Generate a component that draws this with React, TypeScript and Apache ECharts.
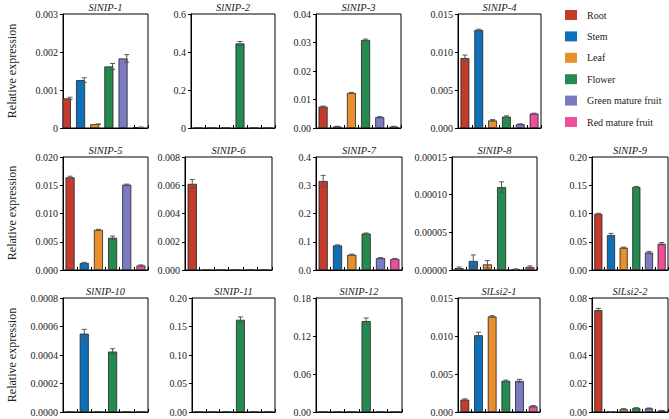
import React, { useEffect, useRef } from "react";
import * as echarts from "echarts";

const tissues = ["Root", "Stem", "Leaf", "Flower", "Green mature fruit", "Red mature fruit"];
const tissueColors = ["#C23B2B", "#0F70BA", "#E8902C", "#248A4F", "#7C7BC2", "#EE4E9C"];

const genes = [
  "SlNIP-1", "SlNIP-2", "SlNIP-3", "SlNIP-4", "SlNIP-5", "SlNIP-6", "SlNIP-7",
  "SlNIP-8", "SlNIP-9", "SlNIP-10", "SlNIP-11", "SlNIP-12", "SlLsi2-1", "SlLsi2-2",
];

// mean values (Root, Stem, Leaf, Flower, Green mature fruit, Red mature fruit)
const nip1 = [0.00078, 0.00126, 0.0001, 0.00162, 0.00183, 0.00002];
const nip2 = [0, 0, 0, 0.445, 0, 0];
const nip3 = [0.0075, 0.0005, 0.0123, 0.0309, 0.0038, 0.0005];
const nip4 = [0.0092, 0.0129, 0.001, 0.0015, 0.0005, 0.0019];
const nip5 = [0.0164, 0.00125, 0.0071, 0.0057, 0.0151, 0.0008];
const nip6 = [0.0061, 0, 0, 0, 0, 0];
const nip7 = [0.315, 0.087, 0.054, 0.129, 0.042, 0.039];
const nip8 = [0.0000025, 0.000012, 0.0000075, 0.00011, 0.000001, 0.000004];
const nip9 = [0.0994, 0.0618, 0.0395, 0.147, 0.031, 0.0465];
const nip10 = [0, 0.00055, 0, 0.000424, 0, 0];
const nip11 = [0, 0, 0, 0.1618, 0, 0];
const nip12 = [0, 0, 0, 0.1435, 0, 0];
const lsi21 = [0.00163, 0.0101, 0.01257, 0.0041, 0.0041, 0.00075];
const lsi22 = [0.0715, 0.0002, 0.0021, 0.0028, 0.0026, 0.001];

// standard errors
const nip1Err = [0.00003, 0.00006, 0.000005, 0.00008, 0.0001, 0.000005];
const nip2Err = [0, 0, 0, 0.01, 0, 0];
const nip3Err = [0.0002, 0.0001, 0.0002, 0.0003, 0.0002, 0.0001];
const nip4Err = [0.0004, 0.0001, 0.0001, 0.0001, 0.00005, 0.00005];
const nip5Err = [0.0002, 0.0001, 0.0001, 0.0003, 0.0001, 0.0001];
const nip6Err = [0.0003, 0, 0, 0, 0, 0];
const nip7Err = [0.02, 0.002, 0.002, 0.002, 0.002, 0.002];
const nip8Err = [0.0000015, 0.000008, 0.000005, 0.000007, 0.0000005, 0.0000015];
const nip9Err = [0.001, 0.003, 0.001, 0.001, 0.002, 0.002];
const nip10Err = [0, 0.00003, 0, 0.00002, 0, 0];
const nip11Err = [0, 0, 0, 0.005, 0, 0];
const nip12Err = [0, 0, 0, 0.005, 0, 0];
const lsi21Err = [0.0001, 0.0004, 0.0001, 0.0001, 0.0002, 0.0001];
const lsi22Err = [0.0012, 0.0001, 0.0002, 0.0002, 0.0002, 0.0001];

const values = [nip1, nip2, nip3, nip4, nip5, nip6, nip7, nip8, nip9, nip10, nip11, nip12, lsi21, lsi22];
const errors = [nip1Err, nip2Err, nip3Err, nip4Err, nip5Err, nip6Err, nip7Err, nip8Err, nip9Err, nip10Err, nip11Err, nip12Err, lsi21Err, lsi22Err];

// y-axis scales and tick label formats
const yMax = [0.003, 0.6, 0.04, 0.015, 0.02, 0.008, 0.4, 0.00015, 0.2, 0.0008, 0.2, 0.18, 0.015, 0.08];
const yStep = [0.001, 0.2, 0.01, 0.005, 0.005, 0.002, 0.1, 0.00005, 0.05, 0.0002, 0.05, 0.06, 0.005, 0.02];
const yDecimals = [3, 1, 2, 3, 3, 3, 1, 5, 2, 4, 2, 2, 3, 2];
const yPlainZero = [true, true, false, false, false, false, false, false, false, false, false, false, false, false];

const yTitle = "Relative expression";

// layout: [left, top, width, height]
const panels = [
  [63, 14, 85, 114], [191, 14, 84, 114], [316, 14, 85, 114], [458, 14, 83, 114],
  [63, 157, 85, 113], [185, 157, 87, 113], [316, 157, 86, 113], [452, 157, 85, 113], [592, 157, 76, 113],
  [63, 298, 85, 114], [192, 298, 83, 114], [316, 298, 86, 114], [458, 298, 82, 114], [592, 298, 76, 114],
];
const rowCenters = [71, 213, 355];

const FONT = "Liberation Serif";

export default function App() {
  const ref = useRef<HTMLDivElement>(null);
  useEffect(() => {
    if (!ref.current) return;
    const chart = echarts.init(ref.current, undefined, { renderer: "svg" });

    const grid: any[] = [];
    const xAxis: any[] = [];
    const yAxis: any[] = [];
    const series: any[] = [];
    const graphic: any[] = [];

    panels.forEach((p, i) => {
      grid.push({
        left: p[0], top: p[1], width: p[2], height: p[3],
        show: true, borderColor: "#000", borderWidth: 1, backgroundColor: "transparent",
      });
      xAxis.push({
        type: "category", gridIndex: i, data: tissues,
        axisLine: { show: true, lineStyle: { color: "#000", width: 1 } },
        axisTick: { show: true, inside: true, length: 3, interval: 0, lineStyle: { color: "#000" } },
        axisLabel: { show: false },
        splitLine: { show: false },
      });
      const dec = yDecimals[i];
      const plain = yPlainZero[i];
      yAxis.push({
        type: "value", gridIndex: i, min: 0, max: yMax[i], interval: yStep[i],
        axisLine: { show: true, lineStyle: { color: "#000", width: 1 } },
        axisTick: { show: true, inside: false, length: 3, lineStyle: { color: "#000" } },
        axisLabel: {
          color: "#222", fontFamily: FONT, fontSize: 10, margin: 5,
          formatter: (v: number) => (plain && Math.abs(v) < 1e-12 ? "0" : v.toFixed(dec)),
        },
        splitLine: { show: false },
      });
      series.push({
        type: "bar", xAxisIndex: i, yAxisIndex: i, barWidth: "64%",
        data: values[i].map((v, k) => ({
          value: v,
          itemStyle: { color: tissueColors[k], borderColor: "#222", borderWidth: 0.8 },
        })),
        z: 2,
      });
      const errData = values[i]
        .map((v, k) => [k, v, errors[i][k]])
        .filter((d) => d[2] > 0);
      series.push({
        type: "custom", xAxisIndex: i, yAxisIndex: i, z: 5,
        data: errData,
        renderItem: (params: any, api: any) => {
          const x = api.value(0);
          const y = api.value(1);
          const e = api.value(2);
          const top = api.coord([x, y + e]);
          const bot = api.coord([x, Math.max(0, y - e)]);
          const st = { stroke: "#555", lineWidth: 1 };
          const w = 2.5;
          return {
            type: "group",
            children: [
              { type: "line", shape: { x1: top[0], y1: top[1], x2: bot[0], y2: bot[1] }, style: st },
              { type: "line", shape: { x1: top[0] - w, y1: top[1], x2: top[0] + w, y2: top[1] }, style: st },
              { type: "line", shape: { x1: bot[0] - w, y1: bot[1], x2: bot[0] + w, y2: bot[1] }, style: st },
            ],
          };
        },
      });
      graphic.push({
        type: "text", x: p[0] + p[2] / 2, y: p[1] - 7,
        style: {
          text: genes[i], fill: "#222", fontFamily: FONT, fontStyle: "italic", fontWeight: "normal", fontSize: 10.5,
          align: "center", verticalAlign: "middle",
        },
      });
    });

    rowCenters.forEach((cy) => {
      graphic.push({
        type: "text", x: 12, y: cy, rotation: Math.PI / 2,
        style: {
          text: yTitle, fill: "#222", fontFamily: FONT, fontWeight: "normal", fontSize: 12,
          align: "center", verticalAlign: "middle",
        },
      });
    });

    // legend entries (empty series so the legend can refer to them)
    tissues.forEach((t, k) => {
      series.push({
        type: "bar", name: t, xAxisIndex: 0, yAxisIndex: 0, data: [],
        itemStyle: { color: tissueColors[k] },
      });
    });

    chart.setOption({
      animation: false,
      grid, xAxis, yAxis, series, graphic,
      legend: {
        data: tissues, orient: "vertical", left: 565, top: 9, padding: 0,
        icon: "rect", itemWidth: 12, itemHeight: 10, itemGap: 9.4,
        selectedMode: false,
        itemStyle: { borderWidth: 0 },
        textStyle: { fontFamily: FONT, fontSize: 10, color: "#222", lineHeight: 12, padding: [0, 0, 0, 5] },
      },
    });
    return () => chart.dispose();
  }, []);
  return <div ref={ref} style={{ position: "absolute", left: 0, top: 0, width: 669, height: 419 }} />;
}
